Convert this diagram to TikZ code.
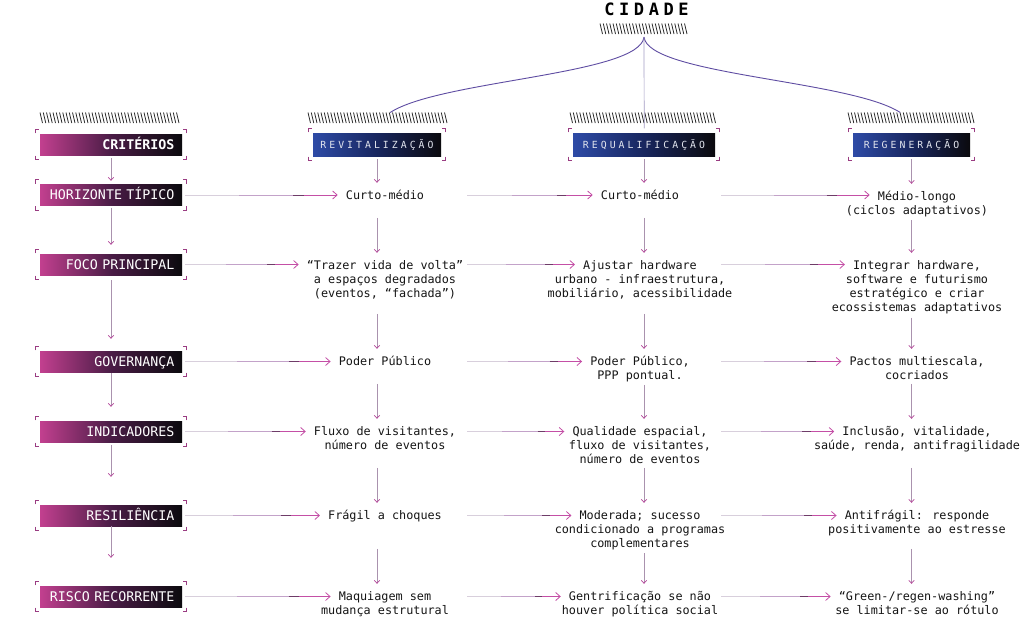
\documentclass[tikz,border=0pt]{standalone}
\usepackage{fontspec}
\usetikzlibrary{arrows.meta,calc}
\newfontfamily\monof{DejaVu Sans Mono}
\newfontfamily\hdrf[LetterSpace=31]{DejaVu Sans Mono}
\newfontfamily\citf[LetterSpace=27]{DejaVu Sans Mono}
\definecolor{magA}{HTML}{C2408F}
\definecolor{magMid}{HTML}{4A1C46}
\definecolor{blkA}{HTML}{0B0A0E}
\definecolor{bluA}{HTML}{2E4BA6}
\definecolor{bluMid}{HTML}{18265E}
\definecolor{brkc}{HTML}{9A3C82}
\definecolor{txtc}{HTML}{151515}
\definecolor{hdrtxt}{HTML}{E2E5EE}
\definecolor{hlA}{HTML}{D8CFDC}
\definecolor{hlB}{HTML}{C3A2C9}
\definecolor{hlT}{HTML}{6E3C68}
\definecolor{hlD}{HTML}{C44FA6}
\definecolor{vlinec}{HTML}{AA92AE}
\definecolor{vheadc}{HTML}{B4479A}
\definecolor{curvec}{HTML}{5E4CA2}
\definecolor{curvel}{HTML}{A49CC4}
\definecolor{hatchc}{HTML}{2B2B2B}
\newcommand\hatchrow[4]{%
  \pgfmathsetmacro\hw{#3-#2}%
  \pgfmathtruncatemacro\hn{(#3-#2-2.5)/3.25}%
  \node[inner sep=0pt, minimum width=\hw pt, minimum height=10.5pt, anchor=north west] (#1) at (#2,#4) {};
  \foreach \k in {0,...,\hn} {\draw[hatchline] ({#2+\k*3.25},#4) -- ({#2+\k*3.25+2.5},{#4+10.5});}
}
\newcommand\brackets[1]{%
  \draw[brkline] ([shift={(-4.5pt,0.5pt)}]#1.north west) -- ++(0pt,4pt) -- ++(3.5pt,0pt);
  \draw[brkline] ([shift={(4.5pt,0.5pt)}]#1.north east) -- ++(0pt,4pt) -- ++(-3.5pt,0pt);
  \draw[brkline] ([shift={(-4.5pt,-0.5pt)}]#1.south west) -- ++(0pt,-4pt) -- ++(3.5pt,0pt);
  \draw[brkline] ([shift={(4.5pt,-0.5pt)}]#1.south east) -- ++(0pt,-4pt) -- ++(-3.5pt,0pt);
}
\newcommand\hlink[2]{%
  \path (#1) -- coordinate[pos=.35] (hA) coordinate[pos=.68] (hB) coordinate[pos=.745] (hC) (#2);
  \draw[hsA,shorten <=3pt] (#1) -- (hA);
  \draw[hsB] (hA) -- (hB);
  \draw[hsT] (hB) -- (hC);
  \draw[hsD] (hC) -- (#2);
}
\newcommand\firstline[4]{\node[cellA] (#1) at (#2,{#3-6.7}) {#4};}
\newcommand\restlines[4]{\node[cellB] (#1) at (#2,{#3+7.6}) {\rule{0pt}{10.5pt}#4};}
\begin{document}
\begin{tikzpicture}[x=1pt,y=-1pt,
  crit/.style={minimum width=142pt, minimum height=21pt, text width=127pt, align=right,
    inner xsep=7.5pt, inner ysep=0pt, text height=9.6pt, text depth=0pt,
    font=\monof\fontsize{13.3}{15}\selectfont, text=white,
    left color=magA, right color=blkA, middle color=magMid},
  hdr/.style={minimum height=23pt, inner sep=0pt, text height=7.1pt, text depth=0pt,
    font=\hdrf\fontsize{9.8}{11}\selectfont, text=hdrtxt,
    left color=bluA, right color=blkA, middle color=bluMid},
  cellA/.style={inner sep=0pt, anchor=north, text height=10.5pt, text depth=3.5pt,
    font=\monof\fontsize{11.8}{14.3}\selectfont, text=txtc},
  cellB/.style={inner sep=0pt, anchor=north, align=center,
    font=\monof\fontsize{11.8}{14.3}\selectfont, text=txtc},
  hatchline/.style={draw=hatchc, line width=0.8pt},
  brkline/.style={draw=brkc, line width=1.1pt},
  hsA/.style={draw=hlA, line width=0.8pt},
  hsB/.style={draw=hlB, line width=0.8pt},
  hsT/.style={draw=hlT, line width=0.8pt},
  hsD/.style={draw=hlD, line width=0.8pt, shorten >=8pt, -{Straight Barb[length=4.5pt,width=8pt]}},
  varrow/.style={draw=vlinec, line width=0.7pt, -{Straight Barb[length=3pt,width=5.5pt,color=vheadc]}},
  vto/.style={shorten >=5.5pt, to path={let \p1=(\tikztostart), \p2=(\tikztotarget),
    \n1={min(40.5,(\y1)-(\y2)-3)} in (\x2,{\y2+\n1}) -- (\p2) \tikztonodes}},
  cline/.style={draw=curvec, line width=0.9pt}
]
\fill[white] (0,0) rectangle (1024,619);
\useasboundingbox (0,0) rectangle (1024,619);

% title
\node[inner sep=0pt, font=\citf\bfseries\fontsize{17}{19}\selectfont, text=black] (cid) at (646.5,9.5) {CIDADE};
\hatchrow{xcid}{600}{688}{23.5}
\coordinate (jn) at (644,37);

% hatches above the column heads
\hatchrow{xc}{40}{182}{112.5}
\hatchrow{xv}{308}{448}{112.5}
\hatchrow{xq}{570}{718}{112.5}
\hatchrow{xg}{848}{975}{112.5}

% curves from CIDADE
\draw[cline] (jn) .. controls (640,75) and (440,80) .. ([xshift=12pt]xv.north);
\draw[cline] (jn) .. controls (648,75) and (850,80) .. ([xshift=-11.5pt]xg.north);
\draw[cline, draw=curvel, line width=0.7pt] (jn) -- ([yshift=-5pt]xq.south);

% criteria boxes
\node[crit, font=\monof\bfseries\fontsize{13.3}{15}\selectfont] (c0) at (111,144.5) {CRITÉRIOS};
\node[crit] (c1) at (111,195) {HORIZONTE TÍPICO};
\node[crit] (c2) at (111,264.5) {FOCO PRINCIPAL};
\node[crit] (c3) at (111,361.5) {GOVERNANÇA};
\node[crit] (c4) at (111,431.5) {INDICADORES};
\node[crit] (c5) at (111,515.5) {RESILIÊNCIA};
\node[crit] (c6) at (111,596.5) {RISCO RECORRENTE};

% column heads
\node[hdr, minimum width=128pt] (hV) at (377,144.5) {REVITALIZAÇÃO};
\node[hdr, minimum width=142pt] (hQ) at (644,144.5) {REQUALIFICAÇÃO};
\node[hdr, minimum width=117pt] (hG) at (911.5,144.5) {REGENERAÇÃO};

\foreach \n in {c0,c1,c2,c3,c4,c5,c6,hV,hQ,hG} {\brackets{\n}}

% Revitalizacao column
\firstline{v1}{385}{195}{Curto-médio}
\firstline{v2}{385}{265}{“Trazer vida de volta”}
\restlines{v2b}{385}{265}{a espaços degradados\\(eventos, “fachada”)}
\firstline{v3}{385}{361}{Poder Público}
\firstline{v4}{385}{431}{Fluxo de visitantes,}
\restlines{v4b}{385}{431}{número de eventos}
\firstline{v5}{385}{515}{Frágil a choques}
\firstline{v6}{385}{596}{Maquiagem sem}
\restlines{v6b}{385}{596}{mudança estrutural}

% Requalificacao column
\firstline{q1}{640}{195}{Curto-médio}
\firstline{q2}{640}{265}{Ajustar hardware}
\restlines{q2b}{640}{265}{urbano - infraestrutura,\\mobiliário, acessibilidade}
\firstline{q3}{640}{361}{Poder Público,}
\restlines{q3b}{640}{361}{PPP pontual.}
\firstline{q4}{640}{431}{Qualidade espacial,}
\restlines{q4b}{640}{431}{fluxo de visitantes,\\número de eventos}
\firstline{q5}{640}{515}{Moderada; sucesso}
\restlines{q5b}{640}{515}{condicionado a programas\\complementares}
\firstline{q6}{640}{596}{Gentrificação se não}
\restlines{q6b}{640}{596}{houver política social}

% Regeneracao column
\firstline{g1}{917}{196}{Médio-longo}
\restlines{g1b}{917}{196}{(ciclos adaptativos)}
\firstline{g2}{917}{265}{Integrar hardware,}
\restlines{g2b}{917}{265}{software e futurismo\\estratégico e criar\\ecossistemas adaptativos}
\firstline{g3}{917}{361}{Pactos multiescala,}
\restlines{g3b}{917}{361}{cocriados}
\firstline{g4}{917}{431}{Inclusão, vitalidade,}
\restlines{g4b}{917}{431}{saúde, renda, antifragilidade}
\firstline{g5}{917}{515}{Antifrágil: responde}
\restlines{g5b}{917}{515}{positivamente ao estresse}
\firstline{g6}{917}{596}{“Green-/regen-washing”}
\restlines{g6b}{917}{596}{se limitar-se ao rótulo}

% vertical connectors: criteria column
\draw[varrow, shorten <=3pt, shorten >=3.5pt] (c0.south) -- (c1.north);
\draw[varrow, shorten <=2pt, shorten >=9pt] (c1.south) -- (c2.north);
\draw[varrow, shorten <=5pt, shorten >=12pt] (c2.south) -- (c3.north);
\draw[varrow, shorten <=1pt, shorten >=14pt] (c3.south) -- (c4.north);
\draw[varrow, shorten <=3pt, shorten >=28pt] (c4.south) -- (c5.north);
\draw[varrow, shorten <=0pt, shorten >=28pt] (c5.south) -- (c6.north);

% vertical connectors: text columns
\draw[varrow, vto] (hV.south) to (v1.north -| hV);
\draw[varrow, vto] (v1.south -| hV) to (v2.north -| hV);
\draw[varrow, vto] (v2b.south -| hV) to (v3.north -| hV);
\draw[varrow, vto] (v3.south -| hV) to (v4.north -| hV);
\draw[varrow, vto] (v4b.south -| hV) to (v5.north -| hV);
\draw[varrow, vto] (v5.south -| hV) to (v6.north -| hV);

\draw[varrow, vto] (hQ.south) to (q1.north -| hQ);
\draw[varrow, vto] (q1.south -| hQ) to (q2.north -| hQ);
\draw[varrow, vto] (q2b.south -| hQ) to (q3.north -| hQ);
\draw[varrow, vto] (q3b.south -| hQ) to (q4.north -| hQ);
\draw[varrow, vto] (q4b.south -| hQ) to (q5.north -| hQ);
\draw[varrow, vto] (q5b.south -| hQ) to (q6.north -| hQ);

\draw[varrow, vto] (hG.south) to (g1.north -| hG);
\draw[varrow, vto] (g1b.south -| hG) to (g2.north -| hG);
\draw[varrow, vto] (g2b.south -| hG) to (g3.north -| hG);
\draw[varrow, vto] (g3b.south -| hG) to (g4.north -| hG);
\draw[varrow, vto] (g4b.south -| hG) to (g5.north -| hG);
\draw[varrow, vto] (g5b.south -| hG) to (g6.north -| hG);

% horizontal connectors
\coordinate (laneA) at (464,0);
\coordinate (laneB) at (718,0);
\foreach \r in {1,...,6} {
  \hlink{c\r.east}{v\r.west |- c\r.east}
  \hlink{laneA |- c\r.east}{q\r.west |- c\r.east}
  \hlink{laneB |- c\r.east}{g\r.west |- c\r.east}
}
\end{tikzpicture}
\end{document}
